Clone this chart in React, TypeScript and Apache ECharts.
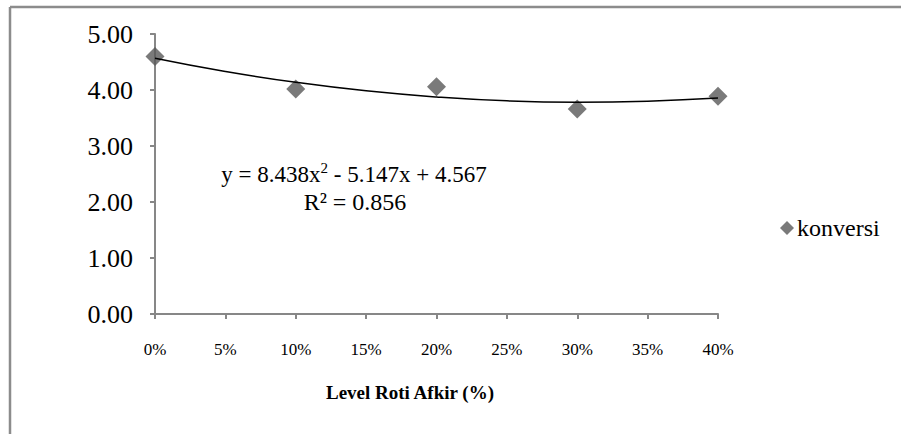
import React, { useEffect, useRef } from "react";
import * as echarts from "echarts";

const levels = [0, 0.1, 0.2, 0.3, 0.4];
const konversi = [4.6, 4.02, 4.06, 3.66, 3.89];
const trendX = [0, 0.05, 0.1, 0.15, 0.2, 0.25, 0.3, 0.35, 0.4];
const trendY = [4.567, 4.331, 4.137, 3.985, 3.875, 3.806, 3.782, 3.801, 3.858];
const equationText = "y = 8.438x{sup|2} - 5.147x + 4.567";
const r2Text = "R² = 0.856";
const seriesName = "konversi";
const xTitle = "Level Roti Afkir (%)";

const FONT = "'Liberation Serif', 'Times New Roman', serif";

export default function App() {
  const ref = useRef<HTMLDivElement>(null);
  useEffect(() => {
    document.body.style.margin = "0";
    if (!ref.current) return;
    const chart = echarts.init(ref.current, null, { renderer: "svg" });
    chart.setOption({
      animation: false,
      backgroundColor: "#ffffff",
      grid: { left: 155, right: 183, top: 34, bottom: 120 },
      legend: {
        data: [{ name: seriesName, icon: "diamond" }],
        left: 775,
        top: 211,
        itemWidth: 14,
        itemHeight: 14,
        itemGap: 3,
        textStyle: { fontFamily: FONT, fontSize: 24, color: "#000", padding: [0, 0, 0, -2] },
      },
      xAxis: {
        type: "value",
        min: 0,
        max: 0.4,
        interval: 0.05,
        axisLine: { show: true, onZero: false, lineStyle: { color: "#878787", width: 2 } },
        axisTick: { show: true, inside: false, length: 5, lineStyle: { color: "#878787", width: 2 } },
        axisLabel: {
          margin: 27,
          fontFamily: FONT,
          fontSize: 17,
          color: "#000",
          formatter: (v: number) => `${Math.round(v * 100)}%`,
        },
        splitLine: { show: false },
      },
      yAxis: {
        type: "value",
        min: 0,
        max: 5,
        interval: 1,
        axisLine: { show: true, lineStyle: { color: "#878787", width: 2 } },
        axisTick: { show: true, inside: false, length: 5, lineStyle: { color: "#878787", width: 2 } },
        axisLabel: {
          margin: 22,
          fontFamily: FONT,
          fontSize: 26,
          color: "#000",
          formatter: (v: number) => v.toFixed(2),
        },
        splitLine: { show: false },
      },
      series: [
        {
          name: "trend",
          type: "line",
          data: trendX.map((x, i) => [x, trendY[i]]),
          smooth: true,
          showSymbol: false,
          lineStyle: { color: "#000", width: 1.5 },
          z: 3,
        },
        {
          name: seriesName,
          type: "scatter",
          data: levels.map((x, i) => [x, konversi[i]]),
          symbol: "diamond",
          symbolSize: 19,
          itemStyle: { color: "#595959" },
          z: 2,
        },
      ],
      graphic: [
        {
          type: "line",
          shape: { x1: 10, y1: 7, x2: 901, y2: 7 },
          style: { stroke: "#8c8c8c", lineWidth: 2.5 },
        },
        {
          type: "line",
          shape: { x1: 10, y1: 7, x2: 10, y2: 434 },
          style: { stroke: "#8c8c8c", lineWidth: 2.5 },
        },
        {
          type: "text",
          x: 410,
          y: 392,
          style: {
            text: xTitle,
            fontFamily: FONT,
            fontSize: 19,
            fontWeight: "bold",
            fill: "#000",
            align: "center",
            verticalAlign: "middle",
          },
        },
        {
          type: "text",
          x: 354,
          y: 174,
          style: {
            text: equationText,
            fontFamily: FONT,
            fontSize: 23,
            fill: "#000",
            align: "center",
            verticalAlign: "middle",
            rich: {
              sup: { fontFamily: FONT, fontSize: 15, verticalAlign: "top", padding: [0, 0, 12, 0], fill: "#000" },
            },
          },
        },
        {
          type: "text",
          x: 355,
          y: 202,
          style: {
            text: r2Text,
            fontFamily: FONT,
            fontSize: 24,
            fill: "#000",
            align: "center",
            verticalAlign: "middle",
          },
        },
      ],
    });
    return () => chart.dispose();
  }, []);
  return <div ref={ref} style={{ width: 901, height: 434 }} />;
}
